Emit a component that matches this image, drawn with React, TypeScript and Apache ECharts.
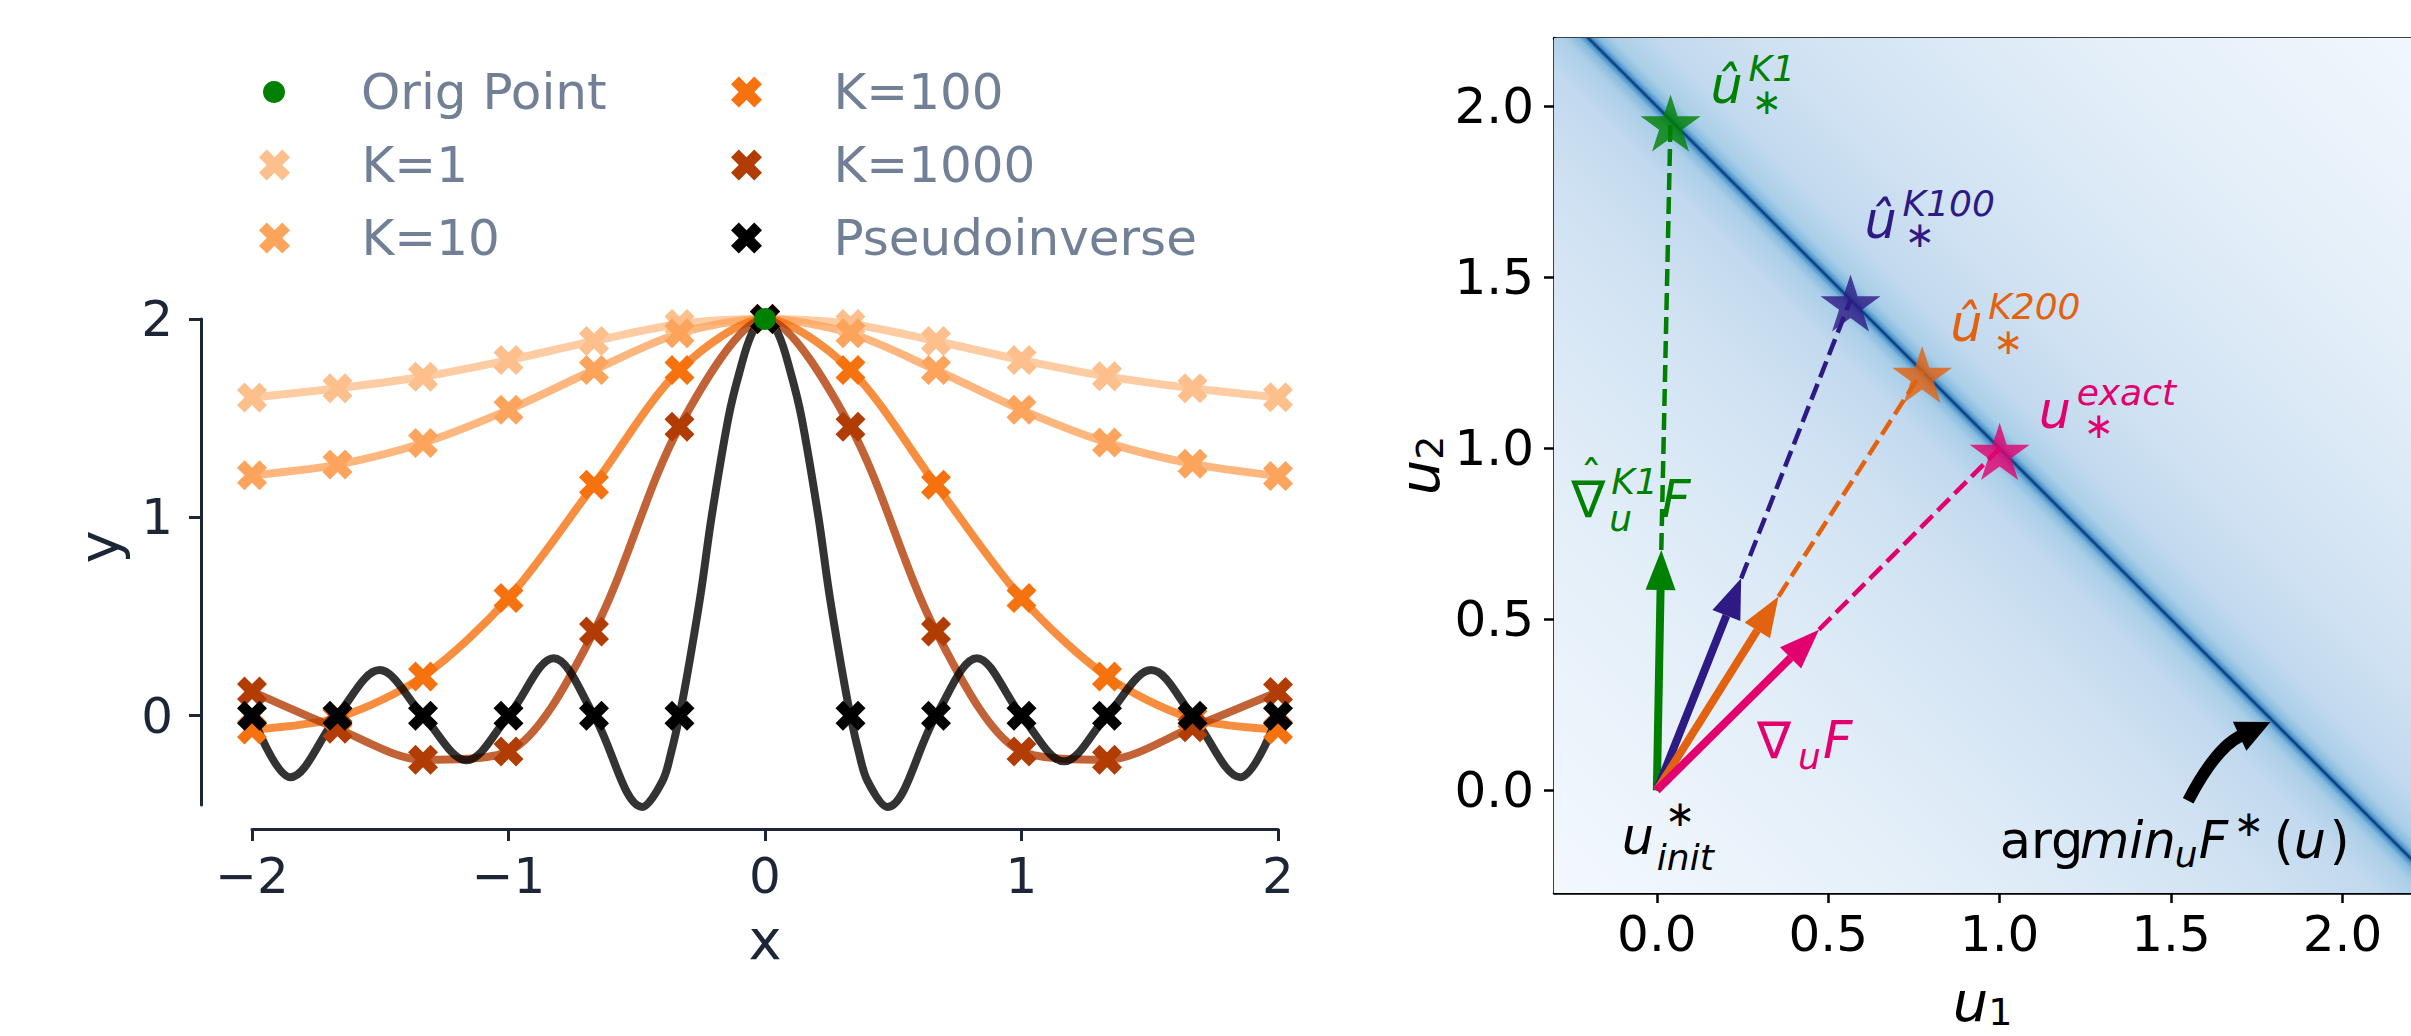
import React, { useEffect, useRef } from "react";
import * as echarts from "echarts";

// ---------------- Left panel data ----------------
const X_GRID = [-2, -5 / 3, -4 / 3, -1, -2 / 3, -1 / 3, 0, 1 / 3, 2 / 3, 1, 4 / 3, 5 / 3, 2];
const K1_VALUES = [1.604, 1.651, 1.709, 1.793, 1.889, 1.975, 2.0, 1.975, 1.889, 1.793, 1.711, 1.651, 1.605];
const K10_VALUES = [1.212, 1.266, 1.375, 1.542, 1.743, 1.928, 2.0, 1.928, 1.743, 1.542, 1.377, 1.27, 1.209];
const K100_VALUES = [-0.07, -0.01, 0.198, 0.593, 1.164, 1.743, 2.0, 1.743, 1.164, 0.593, 0.198, -0.015, -0.07];
const K1000_VALUES = [0.122, -0.065, -0.222, -0.18, 0.425, 1.457, 2.0, 1.457, 0.425, -0.18, -0.222, -0.058, 0.12];
const PINV_VALUES = [0, 0, 0, 0, 0, 0, 2, 0, 0, 0, 0, 0, 0];
// pseudoinverse interpolant (zeros, extrema, points on the main lobe)
const PINV_CURVE_X = [-2, -1.85, -5 / 3, -1.503, -4 / 3, -1.164, -1, -0.824, -2 / 3, -0.478, -0.4, -0.365, -1 / 3, -0.3, -0.25, -0.2085, -0.143, -0.1, -0.05, 0, 0.05, 0.1, 0.143, 0.2085, 0.25, 0.3, 1 / 3, 0.365, 0.4, 0.477, 2 / 3, 0.826, 1, 1.166, 4 / 3, 1.506, 5 / 3, 1.853, 2];
const PINV_CURVE_Y = [0, -0.31, 0, 0.23, 0, -0.225, 0, 0.29, 0, -0.46, -0.33, -0.18, 0, 0.23, 0.62, 1.0, 1.5, 1.73, 1.93, 2.0, 1.93, 1.73, 1.5, 1.0, 0.62, 0.23, 0, -0.18, -0.33, -0.46, 0, 0.29, 0, -0.23, 0, 0.23, 0, -0.31, 0];
const ORIG_X = [0];
const ORIG_Y = [2];
const LEFT_Y_TICKS = [0, 1, 2];

// ---------------- Right panel data ----------------
const STAR_U1 = [0.04, 0.565, 0.774, 1.0];
const STAR_U2 = [1.96, 1.434, 1.225, 1.0];
const ORIGIN_U1 = 0;
const ORIGIN_U2 = 0;
const TIP_U1 = [0.013, 0.246, 0.355, 0.473];
const TIP_U2 = [0.703, 0.62, 0.567, 0.47];
const CURVE_START = [1.55, -0.03];
const CURVE_END = [1.79, 0.2];
const RIGHT_TICKS = [0, 0.5, 1.0, 1.5, 2.0];
// background: value of F* as a function of s = u1 + u2 - 2
const BG_S = [-3, -2.2, -1.6, -1.0, -0.5, -0.2, -0.07, -0.03, -0.01, -0.004, 0, 0.004, 0.01, 0.03, 0.07, 0.2, 0.5, 1.0, 1.6, 2.2, 3];
const BG_COLORS = ["#f7fbff", "#eef5fc", "#e6f0f9", "#dbe9f6", "#cfe1f2", "#c2d9ee", "#abcfe8", "#86bcdf", "#4b93c9", "#1c5a9e", "#0a3470", "#1c5a9e", "#4b93c9", "#86bcdf", "#abcfe8", "#c2d9ee", "#cfe1f2", "#dbe9f6", "#e6f0f9", "#eef5fc", "#f7fbff"];

// ---------------- styles ----------------
const FONT = "DejaVu Sans";
const AXIS_COLOR = "#1c2636";
const LEGEND_TEXT = "#718096";
const C_K1 = "#fdbf8b";
const C_K10 = "#fda45c";
const C_K100 = "#f5720f";
const C_K1000 = "#b13c04";
const C_GREEN = "#008000";
const ARROW_COLORS = ["#008000", "#2e1a85", "#e2620f", "#e2006f"];

const X_MARK = "path://M2.5,0L5,2.5L7.5,0L10,2.5L7.5,5L10,7.5L7.5,10L5,7.5L2.5,10L0,7.5L2.5,5L0,2.5Z";
const STAR_MARK = (() => {
  let d = "path://";
  for (let i = 0; i < 10; i++) {
    const r = i % 2 ? 0.382 : 1;
    const a = ((-90 + i * 36) * Math.PI) / 180;
    d += (i ? "L" : "M") + (r * Math.cos(a)).toFixed(4) + "," + (r * Math.sin(a)).toFixed(4);
  }
  return d + "Z";
})();

// annotation texts: anchors in data coords, parts offset in pixels
type Part = { t: string; x?: number; b?: number; cx?: number; cy?: number; s: number; it?: boolean };
const ANN_U1 = [STAR_U1[0], STAR_U1[1], STAR_U1[2], STAR_U1[3], TIP_U1[0], TIP_U1[3], ORIGIN_U1, 1.0];
const ANN_U2 = [STAR_U2[0], STAR_U2[1], STAR_U2[2], STAR_U2[3], TIP_U2[0], TIP_U2[3], ORIGIN_U2, -0.197];
const ANN_COLORS = [ARROW_COLORS[0], ARROW_COLORS[1], ARROW_COLORS[2], ARROW_COLORS[3], ARROW_COLORS[0], ARROW_COLORS[3], "#000", "#000"];
const ANN_PARTS: Part[][] = [
  [
    { t: "û", x: 40, b: -17, s: 51, it: true },
    { t: "K1", x: 78, b: -39, s: 36, it: true },
    { t: "∗", cx: 96, cy: -19, s: 36 },
  ],
  [
    { t: "û", x: 14, b: -62, s: 51, it: true },
    { t: "K100", x: 52, b: -84, s: 36, it: true },
    { t: "∗", cx: 69, cy: -65, s: 36 },
  ],
  [
    { t: "û", x: 28, b: -30, s: 51, it: true },
    { t: "K200", x: 66, b: -52, s: 36, it: true },
    { t: "∗", cx: 86, cy: -30, s: 36 },
  ],
  [
    { t: "u", x: 39, b: -20, s: 51, it: true },
    { t: "exact", x: 77, b: -43, s: 36, it: true },
    { t: "∗", cx: 99, cy: -23, s: 36 },
  ],
  [
    { t: "∇", x: -90, b: -33, s: 51 },
    { t: "ˆ", cx: -70, cy: -72, s: 44 },
    { t: "K1", x: -50, b: -56, s: 36, it: true },
    { t: "u", x: -52, b: -19, s: 36, it: true },
    { t: "F", x: 0, b: -33, s: 51, it: true },
  ],
  [
    { t: "∇", x: -62, b: 128, s: 51 },
    { t: "u", x: -21, b: 139, s: 36, it: true },
    { t: "F", x: 4, b: 128, s: 51, it: true },
  ],
  [
    { t: "u", x: -35, b: 64, s: 51, it: true },
    { t: "∗", cx: 23, cy: 23, s: 36 },
    { t: "init", x: 0, b: 80, s: 36, it: true },
  ],
  [
    { t: "arg", x: 0, b: 0, s: 51 },
    { t: "min", x: 80, b: 0, s: 51, it: true },
    { t: "u", x: 175, b: 9, s: 36, it: true },
    { t: "F", x: 199, b: 0, s: 51, it: true },
    { t: "∗", cx: 249, cy: -34, s: 36 },
    { t: "(", x: 274, b: 0, s: 51 },
    { t: "u", x: 294, b: 0, s: 51, it: true },
    { t: ")", x: 330, b: 0, s: 51 },
  ],
];

const pairs = (xs: number[], ys: number[]) => xs.map((x, i) => [x, ys[i]]);
const minusFmt = (v: number) => (v < 0 ? "\u2212" + Math.abs(v) : String(v));

function kSeries(name: string, values: number[], color: string) {
  return {
    type: "line",
    name,
    xAxisIndex: 0,
    yAxisIndex: 0,
    data: pairs(X_GRID, values),
    smooth: 0.3,
    symbol: X_MARK,
    symbolSize: 30,
    symbolKeepAspect: true,
    showSymbol: true,
    itemStyle: { color, opacity: 1 },
    lineStyle: { color, width: 8, opacity: 0.8 },
    clip: false,
    z: 2,
    emphasis: { disabled: true },
  };
}

function buildOption(): any {
  const legendText = { fontSize: 50, color: LEGEND_TEXT, fontFamily: FONT };
  const series: any[] = [
    kSeries("K=1", K1_VALUES, C_K1),
    kSeries("K=10", K10_VALUES, C_K10),
    kSeries("K=100", K100_VALUES, C_K100),
    kSeries("K=1000", K1000_VALUES, C_K1000),
    {
      type: "line",
      name: "Pseudoinverse",
      xAxisIndex: 0,
      yAxisIndex: 0,
      data: pairs(PINV_CURVE_X, PINV_CURVE_Y),
      smooth: 0.35,
      showSymbol: false,
      symbol: "none",
      itemStyle: { color: "#000" },
      lineStyle: { color: "#000", width: 8, opacity: 0.8 },
      clip: false,
      z: 2,
      emphasis: { disabled: true },
    },
    {
      type: "scatter",
      name: "Pseudoinverse",
      xAxisIndex: 0,
      yAxisIndex: 0,
      data: pairs(X_GRID, PINV_VALUES),
      symbol: X_MARK,
      symbolSize: 30,
      symbolKeepAspect: true,
      itemStyle: { color: "#000", opacity: 1 },
      clip: false,
      z: 3,
      emphasis: { disabled: true },
    },
    {
      type: "scatter",
      name: "Orig Point",
      xAxisIndex: 0,
      yAxisIndex: 0,
      data: pairs(ORIG_X, ORIG_Y),
      symbol: "circle",
      symbolSize: 22,
      itemStyle: { color: C_GREEN, opacity: 1 },
      clip: false,
      z: 4,
      emphasis: { disabled: true },
    },
    // ---- right panel ----
    {
      type: "custom",
      coordinateSystem: "cartesian2d",
      xAxisIndex: 1,
      yAxisIndex: 1,
      silent: true,
      z: 1,
      data: [[1, 1]],
      renderItem: (params: any, api: any) => {
        const cs = params.coordSys;
        const c = api.coord([1, 1]);
        const p0 = api.coord([0, 2]);
        const p1 = api.coord([2, 0]);
        const dx = p1[0] - p0[0];
        const dy = p1[1] - p0[1];
        const L = Math.hypot(dx, dy);
        let nx = dy / L;
        let ny = -dx / L;
        const q = api.coord([1.5, 1.5]);
        let per = (q[0] - c[0]) * nx + (q[1] - c[1]) * ny;
        if (per < 0) {
          nx = -nx;
          ny = -ny;
          per = -per;
        }
        const S = BG_S[BG_S.length - 1];
        const stops = BG_S.map((s, i) => ({ offset: (s + S) / (2 * S), color: BG_COLORS[i] }));
        const grad = new echarts.graphic.LinearGradient(
          c[0] - nx * per * S,
          c[1] - ny * per * S,
          c[0] + nx * per * S,
          c[1] + ny * per * S,
          stops,
          true
        );
        return {
          type: "rect",
          shape: { x: cs.x, y: cs.y, width: cs.width, height: cs.height },
          style: { fill: grad },
        };
      },
    },
    ...TIP_U1.map((u, i) => ({
      type: "line",
      xAxisIndex: 1,
      yAxisIndex: 1,
      data: [
        [TIP_U1[i], TIP_U2[i]],
        [STAR_U1[i], STAR_U2[i]],
      ],
      showSymbol: false,
      symbol: "none",
      silent: true,
      lineStyle: { color: ARROW_COLORS[i], width: 4.5, type: [17, 7] },
      z: 2,
    })),
    {
      type: "custom",
      coordinateSystem: "cartesian2d",
      xAxisIndex: 1,
      yAxisIndex: 1,
      silent: true,
      z: 3,
      data: TIP_U1.map((u, i) => [ORIGIN_U1, ORIGIN_U2, u, TIP_U2[i]]),
      renderItem: (params: any, api: any) => {
        const a = api.coord([api.value(0), api.value(1)]);
        const b = api.coord([api.value(2), api.value(3)]);
        const color = ARROW_COLORS[params.dataIndex];
        const dx = b[0] - a[0];
        const dy = b[1] - a[1];
        const L = Math.hypot(dx, dy);
        const ux = dx / L;
        const uy = dy / L;
        const px = -uy;
        const py = ux;
        const headLen = 40;
        const headHalf = 15;
        const sh = 4;
        const bx = b[0] - ux * headLen;
        const by = b[1] - uy * headLen;
        return {
          type: "group",
          children: [
            {
              type: "polygon",
              shape: {
                points: [
                  [a[0] + px * sh, a[1] + py * sh],
                  [bx + px * sh, by + py * sh],
                  [bx - px * sh, by - py * sh],
                  [a[0] - px * sh, a[1] - py * sh],
                ],
              },
              style: { fill: color },
            },
            {
              type: "polygon",
              shape: {
                points: [
                  [b[0], b[1]],
                  [bx + px * headHalf, by + py * headHalf],
                  [bx - px * headHalf, by - py * headHalf],
                ],
              },
              style: { fill: color },
            },
          ],
        };
      },
    },
    {
      type: "custom",
      coordinateSystem: "cartesian2d",
      xAxisIndex: 1,
      yAxisIndex: 1,
      silent: true,
      z: 3,
      data: [[CURVE_START[0], CURVE_START[1], CURVE_END[0], CURVE_END[1]]],
      renderItem: (params: any, api: any) => {
        const a = api.coord([api.value(0), api.value(1)]);
        const b = api.coord([api.value(2), api.value(3)]);
        const mx = (a[0] + b[0]) / 2;
        const my = (a[1] + b[1]) / 2;
        const dx = b[0] - a[0];
        const dy = b[1] - a[1];
        const rad = 0.17;
        const cpx = mx + rad * dy;
        const cpy = my - rad * dx;
        const tx = b[0] - cpx;
        const ty = b[1] - cpy;
        const tl = Math.hypot(tx, ty);
        const ux = tx / tl;
        const uy = ty / tl;
        const headLen = 34;
        const headHalf = 16;
        const bx = b[0] - ux * headLen;
        const by = b[1] - uy * headLen;
        return {
          type: "group",
          children: [
            {
              type: "bezierCurve",
              shape: { x1: a[0], y1: a[1], x2: bx + ux * 2, y2: by + uy * 2, cpx1: cpx, cpy1: cpy },
              style: { stroke: "#000", lineWidth: 12, fill: "none" },
            },
            {
              type: "polygon",
              shape: {
                points: [
                  [b[0], b[1]],
                  [bx - uy * headHalf, by + ux * headHalf],
                  [bx + uy * headHalf, by - ux * headHalf],
                ],
              },
              style: { fill: "#000" },
            },
          ],
        };
      },
    },
    {
      type: "scatter",
      xAxisIndex: 1,
      yAxisIndex: 1,
      data: STAR_U1.map((u, i) => ({ value: [u, STAR_U2[i]], itemStyle: { color: ARROW_COLORS[i] } })),
      symbol: STAR_MARK,
      symbolSize: 60,
      symbolKeepAspect: true,
      symbolOffset: [0, 3],
      silent: true,
      z: 4,
    },
    {
      type: "custom",
      coordinateSystem: "cartesian2d",
      xAxisIndex: 1,
      yAxisIndex: 1,
      silent: true,
      z: 5,
      data: pairs(ANN_U1, ANN_U2),
      renderItem: (params: any, api: any) => {
        const p = api.coord([api.value(0), api.value(1)]);
        const parts = ANN_PARTS[params.dataIndex];
        const color = ANN_COLORS[params.dataIndex];
        return {
          type: "group",
          children: parts.map((pt) => {
            const centered = pt.cx !== undefined;
            const x = p[0] + (centered ? (pt.cx as number) : (pt.x as number));
            const y = centered ? p[1] + (pt.cy as number) : p[1] + (pt.b as number) - 0.346 * pt.s;
            return {
              type: "text",
              x,
              y,
              style: {
                text: pt.t,
                fill: color,
                fontSize: pt.s,
                lineHeight: Math.round(pt.s * 0.7),
                fontFamily: FONT,
                fontStyle: pt.it ? "italic" : "normal",
                align: centered ? "center" : "left",
                textAlign: centered ? "center" : "left",
                verticalAlign: "middle",
                textVerticalAlign: "middle",
              },
            };
          }),
        };
      },
    },
  ];

  const rich = {
    i: { fontSize: 56, fontStyle: "italic", fontFamily: FONT, color: "#000" },
    s: { fontSize: 38, fontFamily: FONT, color: "#000", padding: [22, 0, 0, 0] },
  };

  const legendBase = {
    orient: "vertical",
    itemWidth: 164,
    itemGap: 23,
    padding: 0,
    selectedMode: false,
    textStyle: legendText,
  };

  return {
    animation: false,
    backgroundColor: "#fff",
    textStyle: { fontFamily: FONT },
    legend: [
      {
        ...legendBase,
        data: [{ name: "Orig Point", icon: "circle" }],
        left: 263,
        top: 67,
        itemHeight: 22,
      },
      {
        ...legendBase,
        data: [
          { name: "K=1", icon: X_MARK },
          { name: "K=10", icon: X_MARK },
        ],
        left: 259,
        top: 140,
        itemHeight: 31,
      },
      {
        ...legendBase,
        data: [
          { name: "K=100", icon: X_MARK },
          { name: "K=1000", icon: X_MARK },
          { name: "Pseudoinverse", icon: X_MARK },
        ],
        left: 731,
        top: 67,
        itemHeight: 31,
      },
    ],
    grid: [
      { left: 252, top: 319, width: 1026, height: 486, containLabel: false },
      { left: 1554, top: 38, width: 903, height: 878, containLabel: false },
    ],
    xAxis: [
      {
        type: "value",
        gridIndex: 0,
        min: -2,
        max: 2,
        interval: 1,
        offset: 24,
        splitLine: { show: false },
        axisLine: { show: true, onZero: false, lineStyle: { color: AXIS_COLOR, width: 3 } },
        axisTick: { show: true, length: 12, lineStyle: { color: AXIS_COLOR, width: 3 } },
        axisLabel: { fontSize: 50, color: AXIS_COLOR, margin: 22, formatter: minusFmt, fontFamily: FONT },
        name: "x",
        nameLocation: "middle",
        nameGap: 82,
        nameTextStyle: { fontSize: 56, color: AXIS_COLOR, fontFamily: FONT },
      },
      {
        type: "value",
        gridIndex: 1,
        min: -0.3,
        max: 2.2,
        splitLine: { show: false },
        axisLine: { show: true, onZero: false, lineStyle: { color: "#000", width: 2.5 } },
        axisTick: { show: true, length: 10, customValues: RIGHT_TICKS, lineStyle: { color: "#000", width: 2.5 } },
        axisLabel: {
          fontSize: 50,
          color: "#000",
          margin: 16,
          customValues: RIGHT_TICKS,
          formatter: (v: number) => v.toFixed(1),
          fontFamily: FONT,
        },
        name: "{i|u}{s|1}",
        nameLocation: "middle",
        nameGap: 78,
        nameTextStyle: { rich },
      },
      {
        type: "value",
        gridIndex: 1,
        position: "top",
        min: -0.3,
        max: 2.2,
        splitLine: { show: false },
        axisLine: { show: true, onZero: false, lineStyle: { color: "#000", width: 2.5 } },
        axisTick: { show: false },
        axisLabel: { show: false },
      },
    ],
    yAxis: [
      {
        type: "value",
        gridIndex: 0,
        min: -0.45,
        max: 2,
        offset: 51,
        splitLine: { show: false },
        axisLine: { show: true, onZero: false, lineStyle: { color: AXIS_COLOR, width: 3 } },
        axisTick: { show: true, length: 12, customValues: LEFT_Y_TICKS, lineStyle: { color: AXIS_COLOR, width: 3 } },
        axisLabel: { fontSize: 50, color: AXIS_COLOR, margin: 28, customValues: LEFT_Y_TICKS, fontFamily: FONT },
        name: "y",
        nameLocation: "middle",
        nameGap: 75,
        nameTextStyle: { fontSize: 56, color: AXIS_COLOR, fontFamily: FONT, padding: [0, 0, 0, 30] },
      },
      {
        type: "value",
        gridIndex: 1,
        min: -0.3,
        max: 2.2,
        splitLine: { show: false },
        axisLine: { show: true, onZero: false, lineStyle: { color: "#000", width: 2.5 } },
        axisTick: { show: true, length: 10, customValues: RIGHT_TICKS, lineStyle: { color: "#000", width: 2.5 } },
        axisLabel: {
          fontSize: 50,
          color: "#000",
          margin: 20,
          customValues: RIGHT_TICKS,
          formatter: (v: number) => v.toFixed(1),
          fontFamily: FONT,
        },
        name: "{i|u}{s|2}",
        nameLocation: "middle",
        nameGap: 105,
        nameTextStyle: { rich },
      },
    ],
    series,
  };
}

export default function App() {
  const ref = useRef<HTMLDivElement>(null);
  useEffect(() => {
    document.body.style.margin = "0";
    const chart = echarts.init(ref.current as HTMLDivElement, null, { renderer: "svg" });
    chart.setOption(buildOption());
    return () => chart.dispose();
  }, []);
  return (
    <div
      ref={ref}
      style={{ position: "absolute", left: 0, top: 0, width: 2411, height: 1036, background: "#fff" }}
    />
  );
}
